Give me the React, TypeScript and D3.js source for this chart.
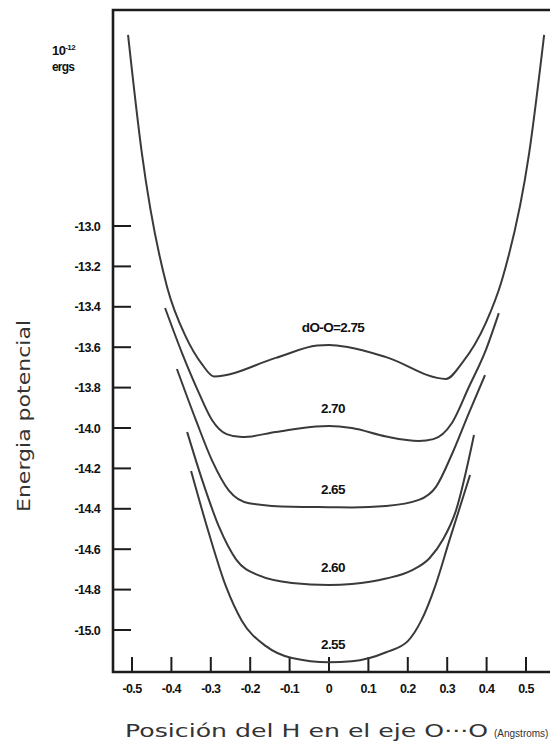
import React from "react";
import * as d3 from "d3";

// ---- Data ----
const xTicks = [-0.5, -0.4, -0.3, -0.2, -0.1, 0, 0.1, 0.2, 0.3, 0.4, 0.5];
const xTickLabels = ["-0.5", "-0.4", "-0.3", "-0.2", "-0.1", "0", "0.1", "0.2", "0.3", "0.4", "0.5"];
const yTicks = [-13.0, -13.2, -13.4, -13.6, -13.8, -14.0, -14.2, -14.4, -14.6, -14.8, -15.0];
const yTickLabels = ["-13.0", "-13.2", "-13.4", "-13.6", "-13.8", "-14.0", "-14.2", "-14.4", "-14.6", "-14.8", "-15.0"];

const curveLabels = ["dO-O=2.75", "2.70", "2.65", "2.60", "2.55"];

const curve275: [number, number][] = [
  [-0.51, -12.054], [-0.475, -12.639], [-0.411, -13.302], [-0.363, -13.55], [-0.322, -13.685],
  [-0.292, -13.745], [-0.135, -13.653], [-0.03, -13.592], [0, -13.589], [0.05, -13.6], [0.145, -13.649],
  [0.297, -13.757], [0.338, -13.678], [0.398, -13.48], [0.439, -13.267], [0.508, -12.639], [0.546, -12.054],
];
const curve270: [number, number][] = [
  [-0.416, -13.406], [-0.373, -13.629], [-0.33, -13.827], [-0.297, -13.96], [-0.26, -14.03],
  [-0.221, -14.045], [-0.135, -14.02], [-0.033, -13.992], [0, -13.99], [0.058, -14.0],
  [0.145, -14.042], [0.228, -14.064], [0.265, -14.055], [0.312, -13.975], [0.355, -13.797],
  [0.398, -13.614], [0.431, -13.431],
];
const curve265: [number, number][] = [
  [-0.386, -13.708], [-0.338, -13.96], [-0.297, -14.16], [-0.254, -14.31], [-0.203, -14.372],
  [-0.094, -14.39], [0, -14.392], [0.058, -14.393], [0.145, -14.386], [0.228, -14.356],
  [0.272, -14.29], [0.312, -14.13], [0.355, -13.926], [0.396, -13.738],
];
const curve260: [number, number][] = [
  [-0.36, -14.02], [-0.322, -14.257], [-0.279, -14.49], [-0.236, -14.65], [-0.178, -14.73],
  [-0.094, -14.767], [0, -14.777], [0.058, -14.772], [0.145, -14.745], [0.21, -14.705],
  [0.255, -14.645], [0.29, -14.55], [0.322, -14.41], [0.368, -14.035],
];
const curve255: [number, number][] = [
  [-0.35, -14.213], [-0.305, -14.52], [-0.261, -14.787], [-0.221, -14.955], [-0.16, -15.08],
  [-0.094, -15.139], [0, -15.16], [0.058, -15.155], [0.145, -15.11], [0.2, -15.055],
  [0.235, -14.95], [0.27, -14.78], [0.305, -14.56], [0.358, -14.233],
];
const curves = [curve275, curve270, curve265, curve260, curve255];

export default function App() {
  const W = 550, H = 745;
  const frameLeft = 113, frameTop = 10, frameBottom = 672;
  const x = d3.scaleLinear().domain([-0.5, 0.5]).range([132, 526]);
  const y = d3.scaleLinear().domain([-13.0, -15.0]).range([226, 630]);
  const line = d3
    .line<[number, number]>()
    .x((d) => x(d[0]))
    .y((d) => y(d[1]))
    .curve(d3.curveMonotoneX);

  const boldFont = "'Liberation Sans', Arial, sans-serif";
  const lightFont = "'DejaVu Sans', 'Liberation Sans', sans-serif";

  return (
    <svg
      width={W}
      height={H}
      viewBox={`0 0 ${W} ${H}`}
      style={{ position: "absolute", left: 0, top: 0, background: "#fff" }}
    >
      <rect x={0} y={0} width={W} height={H} fill="#fff" />
      {/* frame */}
      <path
        d={`M${W + 5},${frameTop}H${frameLeft}V${frameBottom}H${W + 5}`}
        fill="none"
        stroke="#1c1c1c"
        strokeWidth={2.6}
      />
      {/* y ticks */}
      {yTicks.map((t, i) => (
        <g key={"y" + i}>
          <line x1={frameLeft} x2={131} y1={y(t)} y2={y(t)} stroke="#1c1c1c" strokeWidth={2} />
          <text
            x={100}
            y={y(t) + 4.5}
            textAnchor="end"
            fontFamily={boldFont}
            fontWeight="bold"
            fontSize={12.5}
            letterSpacing={-0.6}
            fill="#111"
          >
            {yTickLabels[i]}
          </text>
        </g>
      ))}
      {/* x ticks */}
      {xTicks.map((t, i) => (
        <g key={"x" + i}>
          <line x1={x(t)} x2={x(t)} y1={frameBottom} y2={657} stroke="#1c1c1c" strokeWidth={2} />
          <text
            x={x(t)}
            y={693}
            textAnchor="middle"
            fontFamily={boldFont}
            fontWeight="bold"
            fontSize={12.5}
            letterSpacing={-0.6}
            fill="#111"
          >
            {xTickLabels[i]}
          </text>
        </g>
      ))}
      {/* curves */}
      {curves.map((c, i) => (
        <path key={"c" + i} d={line(c) || ""} fill="none" stroke="#3a3a3a" strokeWidth={2} />
      ))}
      {/* curve labels */}
      {curves.map((c, i) => {
        const center = c.find((d) => d[0] === 0) as [number, number];
        return (
          <text
            key={"l" + i}
            x={x(0) + 4}
            y={y(center[1]) - 13}
            textAnchor="middle"
            fontFamily={boldFont}
            fontWeight="bold"
            fontSize={13.5}
            letterSpacing={-0.6}
            fill="#111"
          >
            {curveLabels[i]}
          </text>
        );
      })}
      {/* unit */}
      <text x={52} y={55} fontFamily={boldFont} fontWeight="bold" fontSize={13} letterSpacing={-0.6} fill="#111">
        10
        <tspan dy={-5} fontSize={8}>-12</tspan>
      </text>
      <text x={52} y={71} fontFamily={boldFont} fontWeight="bold" fontSize={12} letterSpacing={-0.8} fill="#111">
        ergs
      </text>
      {/* y title */}
      <text
        transform={`translate(30,416) rotate(-90)`}
        textAnchor="middle"
        fontFamily={lightFont}
        fontSize={18}
        textLength={192}
        lengthAdjust="spacingAndGlyphs"
        fill="#333"
      >
        Energia potencial
      </text>
      {/* x title */}
      <text x={125} y={737} fontFamily={lightFont} fontSize={18} fill="#333" textLength={363} lengthAdjust="spacingAndGlyphs">
        Posición del H en el eje O···O
      </text>
      <text x={494} y={737} fontFamily={boldFont} fontSize={10} fill="#333">
        (Angstroms)
      </text>
    </svg>
  );
}
